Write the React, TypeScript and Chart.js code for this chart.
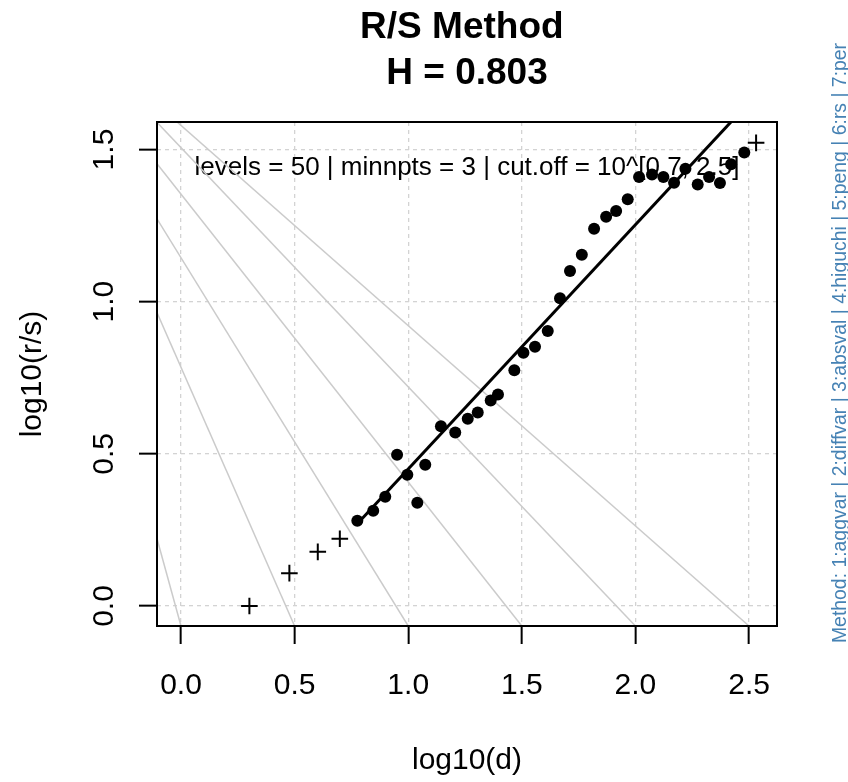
import React, { useEffect, useRef } from "react";
import { Chart, registerables } from "chart.js";

Chart.register(...registerables);

// ---- data ----
const crossX = [0.301, 0.477, 0.602, 0.699, 2.531];
const crossY = [0.0, 0.108, 0.178, 0.221, 1.522];

const dotX = [
  0.776, 0.846, 0.899, 0.951, 0.996, 1.04, 1.075, 1.144, 1.207, 1.262, 1.306,
  1.363, 1.395, 1.467, 1.507, 1.558, 1.614, 1.668, 1.712, 1.764, 1.818, 1.871,
  1.915, 1.966, 2.016, 2.073, 2.123, 2.17, 2.22, 2.274, 2.324, 2.372, 2.421,
  2.479,
];
const dotY = [
  0.28, 0.313, 0.359, 0.497, 0.431, 0.339, 0.464, 0.591, 0.57, 0.615, 0.636,
  0.675, 0.695, 0.775, 0.832, 0.852, 0.904, 1.011, 1.101, 1.154, 1.24, 1.279,
  1.298, 1.337, 1.41, 1.418, 1.41, 1.391, 1.437, 1.385, 1.41, 1.39, 1.452,
  1.49,
];

const hurstH = 0.803;
const fitIntercept = -0.353;

// grey guide lines: end point on the lower plot edge and slope
const fanEndX = [0, 0.5, 1.0, 1.5, 2.0, 2.5];
const fanSlope = [-2.72, -1.7, -1.21, -0.946, -0.786, -0.658];

const xTickValues = [0, 0.5, 1.0, 1.5, 2.0, 2.5];
const yTickValues = [0, 0.5, 1.0, 1.5];
const xRange = [-0.1056, 2.623];
const yRange = [-0.0657, 1.5905];

const titleLines = ["R/S Method ", "H = 0.803"];
const infoText = "levels = 50 | minnpts = 3 | cut.off = 10^[0.7, 2.5]";
const methodText =
  "Method: 1:aggvar | 2:diffvar | 3:absval | 4:higuchi | 5:peng | 6:rs | 7:per";
const xTitle = "log10(d)";
const yTitle = "log10(r/s)";

const FONT = "'Liberation Sans', Arial, Helvetica, sans-serif";

export default function App() {
  const ref = useRef<HTMLCanvasElement | null>(null);

  useEffect(() => {
    const canvas = ref.current;
    if (!canvas) return;

    const fitStart = dotX[0];
    const fitEnd = dotX[dotX.length - 1];
    const fitData = [
      { x: fitStart, y: fitIntercept + hurstH * fitStart },
      { x: fitEnd, y: fitIntercept + hurstH * fitEnd },
    ];

    const yTop = yRange[1] + 0.6;
    const fanDatasets = fanEndX.map((xb, i) => ({
      type: "scatter" as const,
      data: [
        { x: xb + (yTop - yRange[0]) / fanSlope[i], y: yTop },
        { x: xb, y: yRange[0] },
      ],
      showLine: true,
      borderColor: "#cbcbcb",
      borderWidth: 1.5,
      pointRadius: 0,
      pointHoverRadius: 0,
    }));

    const textPlugin = {
      id: "rtexts",
      beforeDatasetsDraw(chart: any) {
        const ctx = chart.ctx;
        const ca = chart.chartArea;
        const cx = (ca.left + ca.right) / 2;
        ctx.save();
        ctx.fillStyle = "#000";
        ctx.font = `26px ${FONT}`;
        ctx.textAlign = "center";
        ctx.textBaseline = "alphabetic";
        ctx.fillText(infoText, cx, 174.5);
        ctx.restore();
      },
      afterDatasetsDraw(chart: any) {
        const ctx = chart.ctx;
        const ca = chart.chartArea;
        const cx = (ca.left + ca.right) / 2;
        const cy = (ca.top + ca.bottom) / 2;
        ctx.save();
        // box
        ctx.strokeStyle = "#000";
        ctx.lineWidth = 2;
        ctx.strokeRect(ca.left, ca.top, ca.right - ca.left, ca.bottom - ca.top);

        // title
        ctx.fillStyle = "#000";
        ctx.textAlign = "center";
        ctx.textBaseline = "alphabetic";
        ctx.font = `bold 37px ${FONT}`;
        ctx.fillText(titleLines[0], cx, 38);
        ctx.fillText(titleLines[1], cx, 83.5);

        // x title
        ctx.font = `30px ${FONT}`;
        ctx.fillText(xTitle, cx, 769);

        // y tick labels (parallel to axis)
        const ys = chart.scales.y;
        ys.ticks.forEach((t: any) => {
          const py = ys.getPixelForValue(t.value);
          ctx.save();
          ctx.translate(113.3, py);
          ctx.rotate(-Math.PI / 2);
          ctx.fillText(Number(t.value).toFixed(1), 0, 0);
          ctx.restore();
        });

        // y title
        ctx.save();
        ctx.translate(41, cy);
        ctx.rotate(-Math.PI / 2);
        ctx.fillText(yTitle, 0, 0);
        ctx.restore();

        // method note at right edge
        ctx.save();
        ctx.fillStyle = "#4682B4";
        ctx.font = `19.4px ${FONT}`;
        ctx.translate(846, 343);
        ctx.rotate(-Math.PI / 2);
        ctx.fillText(methodText, 0, 0);
        ctx.restore();

        ctx.restore();
      },
    };

    const chart = new Chart(canvas, {
      type: "scatter",
      data: {
        datasets: [
          {
            type: "scatter",
            data: fitData,
            showLine: true,
            borderColor: "#000",
            borderWidth: 3,
            pointRadius: 0,
            pointHoverRadius: 0,
          },
          {
            type: "scatter",
            data: dotX.map((x, i) => ({ x, y: dotY[i] })),
            pointStyle: "circle",
            pointRadius: 6,
            backgroundColor: "#000",
            borderColor: "#000",
            borderWidth: 0,
          },
          {
            type: "scatter",
            data: crossX.map((x, i) => ({ x, y: crossY[i] })),
            pointStyle: "cross",
            pointRadius: 8.3,
            borderColor: "#000",
            backgroundColor: "#000",
            borderWidth: 2,
          },
          ...fanDatasets,
        ],
      } as any,
      options: {
        animation: false,
        responsive: false,
        devicePixelRatio: 1,
        events: [],
        layout: { padding: { left: 0, right: 71, top: 122, bottom: 0 } },
        plugins: {
          legend: { display: false },
          title: { display: false },
          tooltip: { enabled: false },
        },
        scales: {
          x: {
            type: "linear",
            position: "bottom",
            min: xRange[0],
            max: xRange[1],
            afterFit(scale: any) {
              scale.height = 156;
            },
            afterBuildTicks(scale: any) {
              scale.ticks = xTickValues.map((v) => ({ value: v }));
            },
            ticks: {
              color: "#000",
              font: { size: 30, family: FONT },
              padding: 24,
              maxRotation: 0,
              minRotation: 0,
              autoSkip: false,
              callback: (v: any) => Number(v).toFixed(1),
            },
            grid: {
              color: "#d3d3d3",
              lineWidth: 1.3,
              drawTicks: true,
              tickLength: 18,
              tickColor: "#000",
              tickWidth: 2,
              tickBorderDash: [],
            },
            border: { display: false, dash: [4, 4] },
          },
          y: {
            type: "linear",
            position: "left",
            min: yRange[0],
            max: yRange[1],
            afterFit(scale: any) {
              scale.width = 157;
            },
            afterBuildTicks(scale: any) {
              scale.ticks = yTickValues.map((v) => ({ value: v }));
            },
            ticks: { display: false },
            grid: {
              color: "#d3d3d3",
              lineWidth: 1.3,
              drawTicks: true,
              tickLength: 18,
              tickColor: "#000",
              tickWidth: 2,
              tickBorderDash: [],
            },
            border: { display: false, dash: [4, 4] },
          },
        },
      } as any,
      plugins: [textPlugin],
    });

    return () => chart.destroy();
  }, []);

  return (
    <div
      style={{
        position: "absolute",
        left: 0,
        top: 0,
        width: 848,
        height: 782,
        background: "#fff",
      }}
    >
      <canvas ref={ref} width={848} height={782} style={{ width: 848, height: 782 }} />
    </div>
  );
}
